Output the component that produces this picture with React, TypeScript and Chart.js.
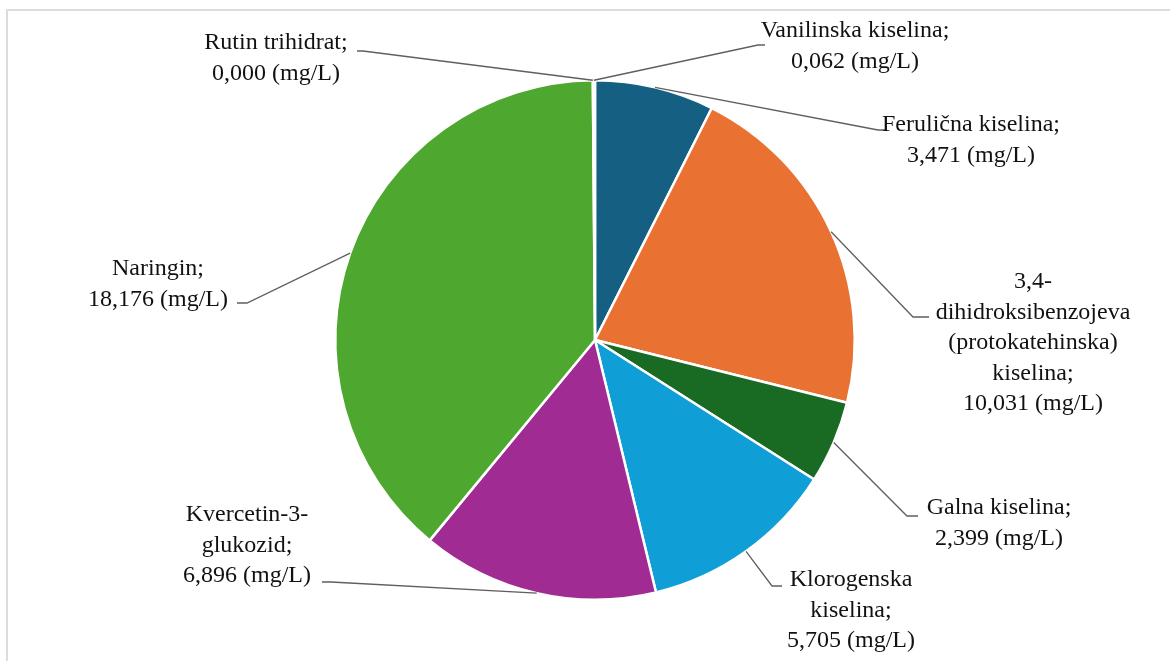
import React, { useEffect, useRef } from "react";
import { Chart, registerables } from "chart.js";

Chart.register(...registerables);

// ---- Data ----
const categories = [
  "Ferulična kiselina",
  "3,4-dihidroksibenzojeva (protokatehinska) kiselina",
  "Galna kiselina",
  "Klorogenska kiselina",
  "Kvercetin-3-glukozid",
  "Naringin",
  "Rutin trihidrat",
  "Vanilinska kiselina",
];
const values = [3.471, 10.031, 2.399, 5.705, 6.896, 18.176, 0.0, 0.062];
const unit = "(mg/L)";
// How each category name wraps in the label
const nameLines = [
  ["Ferulična kiselina;"],
  ["3,4-", "dihidroksibenzojeva", "(protokatehinska)", "kiselina;"],
  ["Galna kiselina;"],
  ["Klorogenska", "kiselina;"],
  ["Kvercetin-3-", "glukozid;"],
  ["Naringin;"],
  ["Rutin trihidrat;"],
  ["Vanilinska kiselina;"],
];
const colors = [
  "#156082",
  "#E97132",
  "#196B24",
  "#0F9ED5",
  "#A02B93",
  "#4EA72E",
  "#0D3A4E",
  "#8B3D13",
];

// ---- Label layout (offsets from pie centre, px) ----
// tx,ty: text block centre x / first line y; ex,ey: leader elbow; kx: end of short horizontal tick
const labelLayout = [
  { tx: 376, ty: -215, ex: 283, ey: -210, kx: 292 },
  { tx: 438, ty: -58, ex: 318, ey: -23, kx: 334 },
  { tx: 404, ty: 168, ex: 312, ey: 176, kx: 323 },
  { tx: 256, ty: 240, ex: 177, ey: 246, kx: 187 },
  { tx: -348, ty: 175, ex: -264, ey: 242, kx: -273 },
  { tx: -437, ty: -71, ex: -348, ey: -37, kx: -358 },
  { tx: -319, ty: -297, ex: -232, ey: -289, kx: -238 },
  { tx: 260, ty: -309, ex: 163, ey: -295, kx: 170 },
];

const LABEL_FONT = `24px "Liberation Serif", "Times New Roman", Times, "DejaVu Serif", serif`;
const LINE_H = 30.5;

function fmt(v: number) {
  return v.toFixed(3).replace(".", ",") + " " + unit;
}

const labelPlugin = {
  id: "pieLabels",
  afterDatasetsDraw(chart: any) {
    const ctx = chart.ctx;
    const meta = chart.getDatasetMeta(0);
    meta.data.forEach((arc: any, i: number) => {
      const p = arc.getProps(["x", "y", "startAngle", "endAngle", "outerRadius"], true);
      const mid = (p.startAngle + p.endAngle) / 2;
      const sx = p.x + Math.cos(mid) * p.outerRadius;
      const sy = p.y + Math.sin(mid) * p.outerRadius;
      const L = labelLayout[i];
      ctx.save();
      ctx.strokeStyle = "#5f5f5f";
      ctx.lineWidth = 1.3;
      ctx.beginPath();
      ctx.moveTo(sx, sy);
      ctx.lineTo(p.x + L.ex, p.y + L.ey);
      ctx.lineTo(p.x + L.kx, p.y + L.ey);
      ctx.stroke();
      const lines = [...nameLines[i], fmt(values[i])];
      ctx.fillStyle = "#111";
      ctx.font = LABEL_FONT;
      ctx.textAlign = "center";
      ctx.textBaseline = "middle";
      lines.forEach((t, k) => {
        ctx.fillText(t, p.x + L.tx, p.y + L.ty + k * LINE_H);
      });
      ctx.restore();
    });
  },
};

export default function App() {
  const ref = useRef<HTMLCanvasElement | null>(null);
  useEffect(() => {
    let chart: Chart | null = null;
    let cancelled = false;
    const build = () => {
      if (cancelled || !ref.current) return;
      chart = new Chart(ref.current, {
        type: "pie",
        data: {
          labels: categories,
          datasets: [
            {
              data: values,
              backgroundColor: colors,
              borderColor: "#ffffff",
              borderWidth: 2.5,
            },
          ],
        },
        options: {
          responsive: false,
          animation: false,
          layout: { padding: { left: 100, right: 80, top: 79, bottom: 60 } },
          plugins: {
            legend: { display: false },
            tooltip: { enabled: false },
          },
        },
        plugins: [labelPlugin],
      });
    };
    const fonts: any = (document as any).fonts;
    if (fonts && fonts.load) {
      Promise.all([
        fonts.load('24px "Liberation Serif"'),
        fonts.load('24px "Times New Roman"'),
      ]).then(build, build);
    } else {
      build();
    }
    return () => {
      cancelled = true;
      if (chart) chart.destroy();
    };
  }, []);
  return (
    <div
      style={{
        position: "fixed",
        left: 0,
        top: 0,
        width: 1170,
        height: 661,
        overflow: "hidden",
        background: "#fff",
      }}
    >
      <div
        style={{
          position: "absolute",
          left: 6,
          top: 9,
          width: 1250,
          height: 800,
          border: "2px solid #dcdcdc",
        }}
      />
      <canvas
        ref={ref}
        width={1170}
        height={661}
        style={{ position: "absolute", left: 0, top: 0, width: 1170, height: 661 }}
      />
    </div>
  );
}
